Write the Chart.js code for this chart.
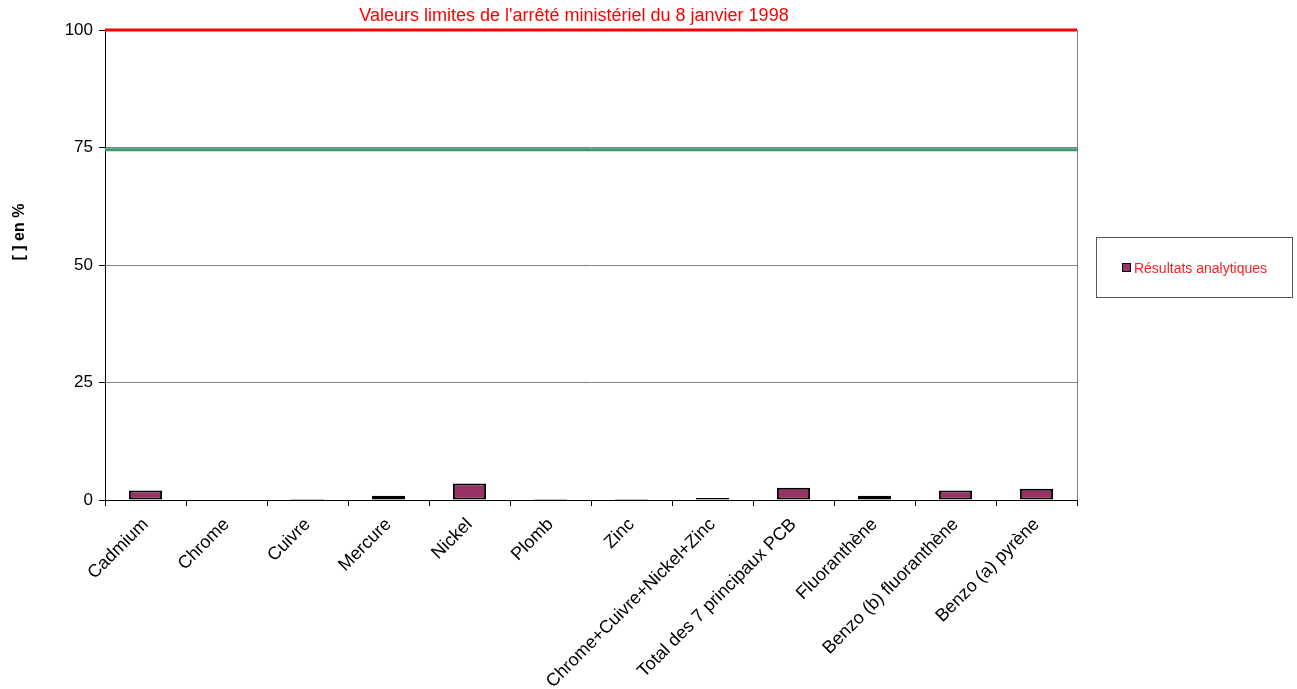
<!DOCTYPE html>
<html>
<head>
<meta charset="utf-8">
<script src="https://cdn.jsdelivr.net/npm/chart.js@4.4.1/dist/chart.umd.min.js"></script>
<style>
  html, body { margin: 0; padding: 0; background: #fff; }
  #wrap { position: relative; width: 1297px; height: 689px; }
  #legend {
    position: absolute; left: 1096px; top: 237px; width: 197px; height: 61px;
    border: 1px solid #555; box-sizing: border-box;
    font: 14px 'Liberation Sans', Arial, sans-serif; color: #ff2020;
    display: flex; align-items: center; justify-content: center;
  }
  #legend .box { display: inline-block; width: 7px; height: 7px; background: #993366;
    border: 1px solid #000; margin-right: 3px; }
</style>
</head>
<body>
<div id="wrap">
  <canvas id="chart" width="1297" height="689"></canvas>
  <div id="legend"><span class="box"></span>Résultats analytiques</div>
</div>
<script>
const categories = ["Cadmium", "Chrome", "Cuivre", "Mercure", "Nickel", "Plomb", "Zinc",
    "Chrome+Cuivre+Nickel+Zinc", "Total des 7 principaux PCB", "Fluoranthène",
    "Benzo (b) fluoranthène", "Benzo (a) pyrène"];
const resultats = [2.0, 0, 0.2, 0.9, 3.5, 0.2, 0.2, 0.4, 2.6, 0.9, 2.0, 2.4];
const yTicks = [0, 25, 50, 75, 100];
const limitValues = [100, 74.5];
const limitColors = ["#ff0000", "#3a9a6a"];
const titleText = "Valeurs limites de l'arrêté ministériel du 8 janvier 1998";
const yTitle = "[ ] en %";

Chart.defaults.font.family = "'Liberation Sans', Arial, sans-serif";
Chart.defaults.color = "#000";

// draws the limit lines, the right border and the texts
const extras = {
    id: "extras",
    afterDatasetsDraw(chart) {
        const ctx = chart.ctx;
        const area = chart.chartArea;
        const y = chart.scales.y;
        ctx.save();
        ctx.strokeStyle = "#808080";
        ctx.lineWidth = 1;
        ctx.beginPath();
        ctx.moveTo(area.right + 0.5, area.top);
        ctx.lineTo(area.right + 0.5, area.bottom);
        ctx.stroke();

        limitValues.forEach((v, i) => {
            const py = y.getPixelForValue(v);
            ctx.strokeStyle = limitColors[i];
            ctx.lineWidth = 3;
            ctx.beginPath();
            ctx.moveTo(area.left, py);
            ctx.lineTo(area.right, py);
            ctx.stroke();
        });

        ctx.fillStyle = "#ff0000";
        ctx.font = "18px 'Liberation Sans', Arial, sans-serif";
        ctx.textAlign = "center";
        ctx.textBaseline = "middle";
        ctx.fillText(titleText, (area.left + area.right) / 2 - 17, 16);

        ctx.fillStyle = "#000";
        ctx.font = "bold 16px 'Liberation Sans', Arial, sans-serif";
        ctx.translate(20, 232);
        ctx.rotate(-Math.PI / 2);
        ctx.fillText(yTitle, 0, 0);
        ctx.restore();
    }
};

new Chart(document.getElementById("chart").getContext("2d"), {
    type: "bar",
    data: {
        labels: categories,
        datasets: [{
            label: "Résultats analytiques",
            data: resultats,
            backgroundColor: "#993366",
            borderColor: "#000",
            borderWidth: 2,
            borderSkipped: false,
            barPercentage: 0.41,
            categoryPercentage: 1
        }]
    },
    options: {
        responsive: false,
        animation: false,
        layout: { padding: { top: 30, right: 220, left: 0, bottom: 0 } },
        plugins: {
            legend: { display: false },
            tooltip: { enabled: false }
        },
        scales: {
            x: {
                afterFit(scale) { scale.height = 189; },
                grid: { display: true, drawOnChartArea: false, offset: true, tickLength: 6, color: "#000" },
                border: { color: "#000" },
                ticks: { font: { size: 18 }, minRotation: 45, maxRotation: 45, padding: 8, color: "#000", autoSkip: false }
            },
            y: {
                min: 0,
                max: 100,
                afterFit(scale) { scale.width = 105; },
                afterBuildTicks(scale) { scale.ticks = yTicks.map(v => ({ value: v })); },
                grid: { color: "#808080", tickLength: 6, tickColor: "#000" },
                border: { color: "#000" },
                ticks: { font: { size: 17 }, padding: 6, color: "#000" }
            }
        }
    },
    plugins: [extras]
});
</script>
</body>
</html>
